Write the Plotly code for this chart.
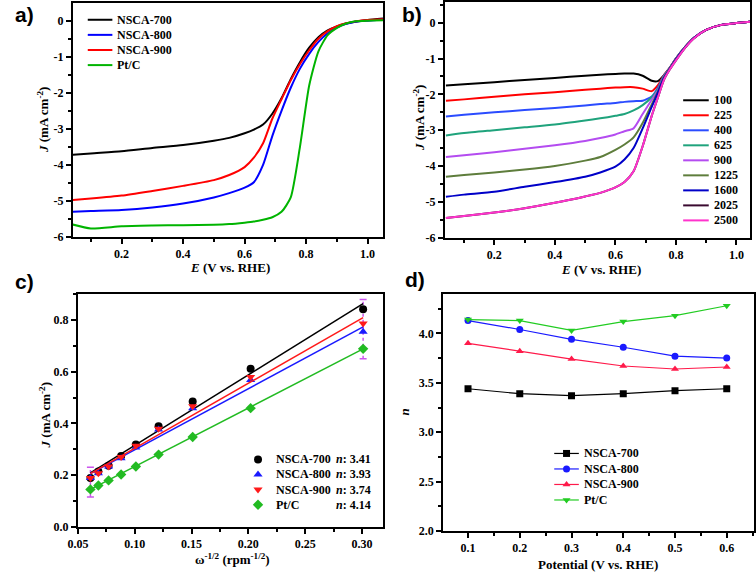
import plotly.graph_objects as go

W, H = 756, 579
SERIF = "Liberation Serif, Times New Roman, DejaVu Serif, serif"
SANS = "Liberation Sans, Arial, sans-serif"

# ---------------- panel a : LSV of catalysts ----------------
E_a = [0.04, 0.1, 0.2, 0.3, 0.4, 0.5, 0.55, 0.6, 0.63, 0.66, 0.69, 0.72, 0.75, 0.78, 0.81, 0.84, 0.87, 0.9, 0.93, 0.96, 1.0, 1.05]
J_a_700 = [-3.72, -3.68, -3.62, -3.53, -3.45, -3.33, -3.25, -3.12, -3.02, -2.88, -2.58, -2.15, -1.62, -1.15, -0.75, -0.46, -0.27, -0.16, -0.08, -0.03, 0.02, 0.06]
J_a_800 = [-5.3, -5.28, -5.25, -5.18, -5.07, -4.9, -4.78, -4.63, -4.48, -4.0, -3.2, -2.5, -1.86, -1.33, -0.92, -0.59, -0.35, -0.19, -0.09, -0.03, 0.0, 0.03]
J_a_900 = [-4.97, -4.93, -4.85, -4.72, -4.58, -4.42, -4.28, -4.06, -3.8, -3.4, -2.72, -2.18, -1.65, -1.2, -0.82, -0.5, -0.29, -0.15, -0.07, -0.02, 0.02, 0.04]
J_a_ptc = [-5.65, -5.76, -5.7, -5.68, -5.67, -5.66, -5.64, -5.6, -5.57, -5.52, -5.45, -5.3, -4.9, -3.5, -1.8, -0.85, -0.4, -0.2, -0.08, -0.02, 0.0, 0.01]
names_a = ["NSCA-700", "NSCA-800", "NSCA-900", "Pt/C"]
colors_a = ["#000000", "#0000ff", "#ff0000", "#00b400"]

# ---------------- panel b : LSV at rotation rates ----------------
E_b = [0.04, 0.1, 0.2, 0.3, 0.4, 0.5, 0.55, 0.6, 0.63, 0.66, 0.69, 0.72, 0.74, 0.76, 0.78, 0.8, 0.83, 0.86, 0.9, 0.95, 1.0, 1.045]
J_b_100 = [-1.75, -1.72, -1.66, -1.6, -1.54, -1.48, -1.45, -1.43, -1.42, -1.42, -1.48, -1.62, -1.63, -1.47, -1.25, -1.0, -0.68, -0.42, -0.2, -0.06, -0.01, 0.03]
J_b_225 = [-2.18, -2.14, -2.07, -2.0, -1.94, -1.87, -1.84, -1.81, -1.8, -1.8, -1.84, -1.91, -1.75, -1.47, -1.25, -1.0, -0.68, -0.42, -0.2, -0.06, -0.01, 0.03]
J_b_400 = [-2.62, -2.57, -2.5, -2.44, -2.38, -2.31, -2.27, -2.24, -2.21, -2.19, -2.18, -2.06, -1.82, -1.48, -1.26, -1.0, -0.68, -0.42, -0.2, -0.06, -0.01, 0.03]
J_b_625 = [-3.15, -3.08, -3.0, -2.92, -2.84, -2.73, -2.67, -2.6, -2.55, -2.45, -2.3, -2.08, -1.86, -1.5, -1.26, -1.0, -0.68, -0.42, -0.2, -0.06, -0.01, 0.03]
J_b_900 = [-3.75, -3.7, -3.62, -3.52, -3.42, -3.3, -3.22, -3.12, -3.03, -2.95, -2.55, -2.15, -1.9, -1.52, -1.27, -1.0, -0.68, -0.42, -0.2, -0.06, -0.01, 0.03]
J_b_1225 = [-4.3, -4.25, -4.18, -4.1, -4.0, -3.85, -3.75, -3.55, -3.4, -3.2, -2.8, -2.28, -1.93, -1.53, -1.27, -1.01, -0.68, -0.42, -0.2, -0.06, -0.01, 0.03]
J_b_1600 = [-4.86, -4.8, -4.72, -4.58, -4.45, -4.3, -4.18, -4.02, -3.82, -3.5, -2.95, -2.35, -1.96, -1.55, -1.28, -1.02, -0.69, -0.42, -0.2, -0.06, -0.01, 0.03]
J_b_2025 = [-5.45, -5.4, -5.3, -5.18, -5.03, -4.85, -4.75, -4.6, -4.45, -4.15, -3.45, -2.6, -2.1, -1.6, -1.3, -1.05, -0.7, -0.43, -0.2, -0.06, -0.01, 0.03]
J_b_2500 = [-5.45, -5.4, -5.3, -5.18, -5.03, -4.85, -4.75, -4.6, -4.45, -4.15, -3.45, -2.6, -2.1, -1.6, -1.3, -1.05, -0.7, -0.43, -0.2, -0.06, -0.01, 0.03]
rpm_labels = ["100", "225", "400", "625", "900", "1225", "1600", "2025", "2500"]
colors_b = ["#000000", "#ff0000", "#2b4cff", "#1fa37c", "#b44cf0", "#5e7d3c", "#0000c8", "#3a0a30", "#ff33cc"]

# ---------------- panel c : K-L plots ----------------
omega_inv = [0.061, 0.068, 0.077, 0.088, 0.101, 0.121, 0.151, 0.202, 0.301]
Jc_700 = [0.188, 0.213, 0.236, 0.274, 0.318, 0.389, 0.485, 0.612, 0.842]
Jc_800 = [0.188, 0.207, 0.233, 0.265, 0.306, 0.376, 0.459, 0.568, 0.755]
Jc_900 = [0.188, 0.207, 0.233, 0.270, 0.313, 0.379, 0.466, 0.580, 0.787]
Jc_ptc = [0.144, 0.159, 0.179, 0.202, 0.233, 0.279, 0.347, 0.459, 0.689]
fit_slope = [2.733, 2.371, 2.521, 2.271]
fit_icept = [0.0413, 0.0604, 0.0512, 0.0055]
n_values = ["3.41", "3.93", "3.74", "4.14"]
err_x = [0.061, 0.061, None, 0.301, 0.301]
err_y = [0.115, 0.23, None, 0.651, 0.88]
colors_c = ["#000000", "#1a1aff", "#ff1a1a", "#22bb22"]
symbols_c = ["circle", "triangle-up", "triangle-down", "diamond"]

# ---------------- panel d : electron transfer number ----------------
potential = [0.1, 0.2, 0.3, 0.4, 0.5, 0.6]
n_700 = [3.44, 3.39, 3.37, 3.39, 3.42, 3.44]
n_800 = [4.13, 4.04, 3.94, 3.86, 3.77, 3.75]
n_900 = [3.90, 3.82, 3.74, 3.67, 3.64, 3.66]
n_ptc = [4.14, 4.13, 4.03, 4.12, 4.18, 4.28]
colors_d = ["#000000", "#1a1aff", "#ff1a4a", "#22cc22"]
symbols_d = ["square", "circle", "triangle-up", "triangle-down"]

neg_ticks = [0, -1, -2, -3, -4, -5, -6]
neg_text = ["0", "-1", "-2", "-3", "-4", "-5", "-6"]


def px(x):
    return x / W


def py(y):
    return 1 - y / H


fig = go.Figure()

# panel a traces
for J, nm, c in zip([J_a_700, J_a_800, J_a_900, J_a_ptc], names_a, colors_a):
    fig.add_trace(go.Scatter(x=E_a, y=J, mode="lines", line=dict(color=c, width=2, shape="spline", smoothing=0.6),
                             name=nm, showlegend=False, xaxis="x", yaxis="y"))

# panel b traces
for J, nm, c in zip([J_b_100, J_b_225, J_b_400, J_b_625, J_b_900, J_b_1225, J_b_1600, J_b_2025, J_b_2500],
                    rpm_labels, colors_b):
    fig.add_trace(go.Scatter(x=E_b, y=J, mode="lines", line=dict(color=c, width=2, shape="spline", smoothing=0.6),
                             name=nm, showlegend=False, xaxis="x2", yaxis="y2"))

# panel c traces
fig.add_trace(go.Scatter(x=err_x, y=err_y, mode="lines+markers", line=dict(color="#cc55ee", width=1.5, dash="dot"),
                         marker=dict(symbol="line-ew", size=5, line=dict(color="#cc55ee", width=1.5)),
                         showlegend=False, xaxis="x3", yaxis="y3"))
xfit = [omega_inv[0], omega_inv[-1]]
for Jc, s, b0, c, sym, nm in zip([Jc_700, Jc_800, Jc_900, Jc_ptc], fit_slope, fit_icept, colors_c, symbols_c, names_a):
    fig.add_trace(go.Scatter(x=xfit, y=[b0 + s * v for v in xfit], mode="lines", line=dict(color=c, width=1.5),
                             showlegend=False, xaxis="x3", yaxis="y3"))
    fig.add_trace(go.Scatter(x=omega_inv, y=Jc, mode="markers", marker=dict(symbol=sym, size=8, color=c),
                             name=nm, showlegend=False, xaxis="x3", yaxis="y3"))

# panel d traces
for nv, c, sym, nm in zip([n_700, n_800, n_900, n_ptc], colors_d, symbols_d, names_a):
    fig.add_trace(go.Scatter(x=potential, y=nv, mode="lines+markers", line=dict(color=c, width=1.2),
                             marker=dict(symbol=sym, size=7, color=c), name=nm, showlegend=False,
                             xaxis="x4", yaxis="y4"))

annotations = []


def text(x, y, t, size=12, xanchor="left", family=SERIF, angle=0):
    annotations.append(dict(x=px(x), y=py(y), xref="paper", yref="paper", text=t, showarrow=False,
                            xanchor=xanchor, yanchor="middle", textangle=angle,
                            font=dict(family=family, size=size, color="black", weight="bold")))


# legend glyphs drawn in an overlay pixel axis
def legend_glyph(x0, x1, y, color, symbol=None, size=7, width=2):
    fig.add_trace(go.Scatter(x=[x0, x1], y=[y, y], mode="lines", line=dict(color=color, width=width),
                             showlegend=False, xaxis="x5", yaxis="y5", hoverinfo="skip"))
    if symbol:
        fig.add_trace(go.Scatter(x=[(x0 + x1) / 2], y=[y], mode="markers",
                                 marker=dict(symbol=symbol, size=size, color=color),
                                 showlegend=False, xaxis="x5", yaxis="y5", hoverinfo="skip"))


def legend_marker(x, y, color, symbol, size=8):
    fig.add_trace(go.Scatter(x=[x], y=[y], mode="markers", marker=dict(symbol=symbol, size=size, color=color),
                             showlegend=False, xaxis="x5", yaxis="y5", hoverinfo="skip"))


# legend a
for i, (nm, c) in enumerate(zip(names_a, colors_a)):
    yy = 20 + i * 15.3
    legend_glyph(78, 103, yy, c)
    text(106, yy, nm)

# legend b
for i, (nm, c) in enumerate(zip(rpm_labels, colors_b)):
    yy = 101.5 + i * 15.2
    legend_glyph(683, 709, yy, c)
    text(712, yy, nm)

# legend c
for i, (nm, c, sym, nv) in enumerate(zip(names_a, colors_c, symbols_c, n_values)):
    yy = 465 + i * 15.3
    legend_marker(251, yy, c, sym)
    text(267, yy, nm)
    text(328, yy, "<i>n</i>: " + nv)

# legend d
for i, (nm, c, sym) in enumerate(zip(names_a, colors_d, symbols_d)):
    yy = 459 + i * 15.7
    legend_glyph(552, 577, yy, c, sym, size=7, width=1.2)
    text(580, yy, nm)

# panel labels
text(2, 15, "a)", size=21, family=SANS)
text(395, 15, "b)", size=21, family=SANS)
text(2, 285, "c)", size=21, family=SANS)
text(398, 283, "d)", size=21, family=SANS)

# axis titles
text(223, 271, "<i>E</i> (V vs. RHE)", size=13, xanchor="center")
text(600, 272.5, "<i>E</i> (V vs. RHE)", size=13, xanchor="center")
text(32, 121, "<i>J</i> (mA cm<sup>-2</sup>)", size=13, xanchor="center", angle=-90)
text(414, 119, "<i>J</i> (mA cm<sup>-2</sup>)", size=13, xanchor="center", angle=-90)
text(225, 566, "ω<sup>-1/2</sup> (rpm<sup>-1/2</sup>)", size=13, xanchor="center")
text(34, 420, "<i>J</i> (mA cm<sup>-2</sup>)", size=13, xanchor="center", angle=-90)
text(596, 571, "Potential (V vs. RHE)", size=13, xanchor="center")
text(400, 417, "<i>n</i>", size=13, xanchor="center", angle=-90)

tickfont = dict(family=SERIF, size=12, color="black", weight="bold")


def ax(domain, rng, dtick, minor, fmt=None, tickvals=None, ticktext=None, anchor=None):
    d = dict(domain=domain, range=rng, showline=True, linewidth=2, linecolor="black", mirror=True,
             ticks="outside", ticklen=5, tickwidth=1.5, tickcolor="black", tickfont=tickfont,
             showgrid=False, zeroline=False, anchor=anchor,
             minor=dict(ticks="outside", ticklen=3, tickwidth=1.5, tickcolor="black", dtick=minor, showgrid=False))
    if tickvals is not None:
        d.update(tickmode="array", tickvals=tickvals, ticktext=ticktext)
    else:
        d.update(dtick=dtick, tick0=0)
    if fmt:
        d["tickformat"] = fmt
    return d


fig.update_layout(
    width=W, height=H, margin=dict(l=0, r=0, t=0, b=0),
    paper_bgcolor="white", plot_bgcolor="rgba(0,0,0,0)", showlegend=False,
    font=dict(family=SERIF, color="black"),
    xaxis=ax([px(63), px(378)], [0.042, 1.05], 0.2, 0.1, fmt=".1f", anchor="y"),
    yaxis=ax([py(240), py(3)], [-6, 0.49], 1, 0.5, tickvals=neg_ticks, ticktext=neg_text, anchor="x"),
    xaxis2=ax([px(441), px(751)], [0.037, 1.045], 0.2, 0.1, fmt=".1f", anchor="y2"),
    yaxis2=ax([py(240.5), py(2)], [-6, 0.58], 1, 0.5, tickvals=neg_ticks, ticktext=neg_text, anchor="x2"),
    xaxis3=ax([px(68), px(378)], [0.05, 0.3185], 0.05, 0.025, fmt=".2f", anchor="y3"),
    yaxis3=ax([py(533), py(298)], [0, 0.9], 0.2, 0.1, fmt=".1f", anchor="x3"),
    xaxis4=ax([px(439), px(755)], [0.0517, 0.6527], 0.1, 0.05, fmt=".1f", anchor="y4"),
    yaxis4=ax([py(537.5), py(298)], [2.0, 4.395], 0.5, 0.25, fmt=".1f", anchor="x4"),
    xaxis5=dict(domain=[0, 1], range=[0, W], visible=False, fixedrange=True, anchor="y5"),
    yaxis5=dict(domain=[0, 1], range=[H, 0], visible=False, fixedrange=True, anchor="x5"),
    annotations=annotations,
)

fig.write_html("out.html", config={"displayModeBar": False},
               post_script="document.body.style.margin='0';document.body.style.overflow='hidden';")
